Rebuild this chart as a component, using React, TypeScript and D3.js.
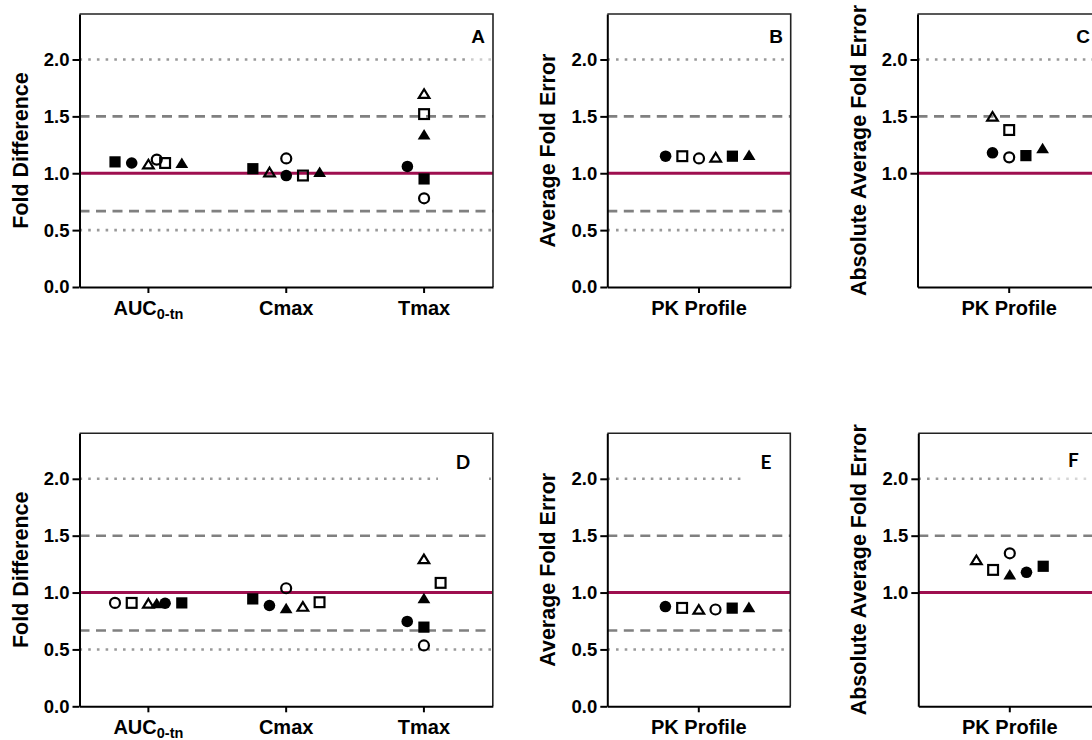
import React, { useEffect, useRef } from 'react'
import * as d3 from 'd3'

// series order: filled circle, open square, open circle, open triangle, filled square, filled triangle
const shapes = ['filledCircle', 'openSquare', 'openCircle', 'openTriangle', 'filledSquare', 'filledTriangle']

const pkCategories = ['AUC', 'Cmax', 'Tmax']
const profileCategory = ['PK Profile']

const fullTicks = [0, 0.5, 1.0, 1.5, 2.0]
const absTicks = [1.0, 1.5, 2.0]

// values per series, one entry per category
const valuesA = [
  [1.09, 0.98, 1.06],
  [1.09, 0.98, 1.52],
  [1.12, 1.13, 0.78],
  [1.08, 1.01, 1.70],
  [1.10, 1.04, 0.95],
  [1.09, 1.01, 1.34]
]
// horizontal spread of each point, in marker steps
const offsetsA = [
  [-1, 0, -1],
  [1, 1, 0],
  [0.5, 0, 0],
  [0, -1, 0],
  [-2, -2, 0],
  [2, 2, 0]
]

const valuesB = [[1.15], [1.15], [1.13], [1.14], [1.15], [1.16]]
const offsetsB = [[-2], [-1], [0], [1], [2], [3]]

const valuesC = [[1.18], [1.38], [1.14], [1.50], [1.155], [1.22]]
const offsetsC = [[-1], [0], [0], [-1], [1], [2]]

const valuesD = [
  [0.906, 0.886, 0.746],
  [0.909, 0.915, 1.085],
  [0.909, 1.038, 0.535],
  [0.905, 0.877, 1.295],
  [0.909, 0.944, 0.696],
  [0.906, 0.862, 0.95]
]
const offsetsD = [
  [1, -1, -1],
  [-1, 2, 1],
  [-2, 0, 0],
  [0, 1, 0],
  [2, -2, 0],
  [0.5, 0, 0]
]

const valuesE = [[0.877], [0.865], [0.851], [0.851], [0.863], [0.871]]
const offsetsE = [[-2], [-1], [1], [0], [2], [3]]

const valuesF = [[1.178], [1.199], [1.345], [1.287], [1.231], [1.158]]
const offsetsF = [[1], [-1], [0], [-2], [2], [0]]

const FONT = '"Liberation Sans", Arial, Helvetica, sans-serif'
const LABEL_FONT = 'Lato, "Open Sans", "Liberation Sans", sans-serif'
const MAGENTA = '#9e0f4f'
const STEP = 16.7
const PLOT_H = 273

const panels = [
  { label: 'A', left: 79.5, top: 14, width: 413.5, cats: pkCategories, values: valuesA, offsets: offsetsA,
    title: 'Fold Difference', ticks: fullTicks, low: true, lx: 478, ly: 43, lfont: FONT, box: [467, 22, 491, 64, 0.5] },
  { label: 'B', left: 607.3, top: 14, width: 183.4, cats: profileCategory, values: valuesB, offsets: offsetsB,
    title: 'Average Fold Error', ticks: fullTicks, low: true, lx: 776, ly: 43, lfont: FONT, box: null },
  { label: 'C', left: 917.5, top: 14, width: 183.4, cats: profileCategory, values: valuesC, offsets: offsetsC,
    title: 'Absolute Average Fold Error', ticks: absTicks, low: false, lx: 1083, ly: 43, lfont: FONT, box: null },
  { label: 'D', left: 79.5, top: 433.3, width: 413.3, cats: pkCategories, values: valuesD, offsets: offsetsD,
    title: 'Fold Difference', ticks: fullTicks, low: true, lx: 463, ly: 468.5, lfont: LABEL_FONT, box: [438, 440, 489, 484, 1] },
  { label: 'E', left: 607.3, top: 433.3, width: 183, cats: profileCategory, values: valuesE, offsets: offsetsE,
    title: 'Average Fold Error', ticks: fullTicks, low: true, lx: 766, ly: 468.5, lfont: LABEL_FONT, box: [741, 440, 788, 484, 1] },
  { label: 'F', left: 918.3, top: 433.3, width: 183, cats: profileCategory, values: valuesF, offsets: offsetsF,
    title: 'Absolute Average Fold Error', ticks: absTicks, low: false, lx: 1073.5, ly: 467, lfont: LABEL_FONT, box: [1045, 440, 1100, 484, 0.6] }
]

function drawMarker(g, shape, cx, cy) {
  if (shape === 'filledCircle') {
    g.append('circle').attr('cx', cx).attr('cy', cy).attr('r', 5.8).attr('fill', '#000')
  } else if (shape === 'openCircle') {
    g.append('circle').attr('cx', cx).attr('cy', cy).attr('r', 5)
      .attr('fill', 'none').attr('stroke', '#000').attr('stroke-width', 2.2)
  } else if (shape === 'filledSquare') {
    g.append('rect').attr('x', cx - 5.6).attr('y', cy - 5.6).attr('width', 11.2).attr('height', 11.2).attr('fill', '#000')
  } else if (shape === 'openSquare') {
    g.append('rect').attr('x', cx - 4.9).attr('y', cy - 4.9).attr('width', 9.8).attr('height', 9.8)
      .attr('fill', 'none').attr('stroke', '#000').attr('stroke-width', 2.2)
  } else if (shape === 'filledTriangle') {
    g.append('path').attr('d', `M${cx},${cy - 5.6}L${cx + 6.4},${cy + 5}L${cx - 6.4},${cy + 5}Z`).attr('fill', '#000')
  } else {
    g.append('path').attr('d', `M${cx},${cy - 4.4}L${cx + 5.3},${cy + 4.2}L${cx - 5.3},${cy + 4.2}Z`)
      .attr('fill', 'none').attr('stroke', '#000').attr('stroke-width', 2.2)
  }
}

function drawPanel(svg, p) {
  const bottom = p.top + PLOT_H
  const right = p.left + p.width
  const y = d3.scaleLinear().domain([0, 2.4]).range([bottom, p.top])
  const x = d3.scaleBand().domain(p.cats).range([p.left, right]).padding(0)
  const cx = (c) => x(c) + x.bandwidth() / 2

  const g = svg.append('g')

  // reference lines
  const refs = [
    { v: 2.0, dash: '2.6,6.1', color: '#999', w: 2.6 },
    { v: 1.5, dash: '10,6.5', color: '#808080', w: 2.6 }
  ]
  if (p.low) {
    refs.push({ v: 1 / 1.5, dash: '10,6.5', color: '#808080', w: 2.6 })
    refs.push({ v: 0.5, dash: '2.6,6.1', color: '#999', w: 2.6 })
  }
  refs.forEach(r => {
    g.append('line')
      .attr('x1', p.left).attr('x2', right)
      .attr('y1', y(r.v)).attr('y2', y(r.v))
      .attr('stroke', r.color).attr('stroke-width', r.w).attr('stroke-dasharray', r.dash)
  })
  g.append('line')
    .attr('x1', p.left).attr('x2', right)
    .attr('y1', y(1)).attr('y2', y(1))
    .attr('stroke', MAGENTA).attr('stroke-width', 3)

  // frame top / right
  g.append('path')
    .attr('d', `M${p.left},${p.top}H${right}V${bottom}`)
    .attr('fill', 'none').attr('stroke', '#222').attr('stroke-width', 1.6)

  // y axis
  g.append('g')
    .attr('transform', `translate(${p.left},0)`)
    .call(d3.axisLeft(y).tickValues(p.ticks).tickSize(7).tickSizeOuter(0).tickPadding(3).tickFormat(d3.format('.1f')))
    .call(ax => {
      ax.select('.domain').attr('stroke', '#000').attr('stroke-width', 2)
      ax.selectAll('.tick line').attr('stroke', '#000').attr('stroke-width', 2)
      ax.selectAll('.tick text').attr('font-family', FONT).attr('font-size', 18.5).attr('font-weight', 'bold').attr('fill', '#000')
    })

  // x axis
  g.append('g')
    .attr('transform', `translate(0,${bottom})`)
    .call(d3.axisBottom(x).tickSize(6).tickSizeOuter(0).tickFormat(() => ''))
    .call(ax => {
      ax.select('.domain').attr('stroke', '#000').attr('stroke-width', 2)
      ax.selectAll('.tick line').attr('stroke', '#000').attr('stroke-width', 2)
    })

  p.cats.forEach(c => {
    const t = g.append('text')
      .attr('x', cx(c)).attr('y', bottom + 28)
      .attr('text-anchor', 'middle')
      .attr('font-family', FONT).attr('font-size', 20).attr('font-weight', 'bold')
    if (c === 'AUC') {
      t.append('tspan').text('AUC')
      t.append('tspan').attr('font-size', 14.5).attr('dy', 3.5).text('0-tn')
    } else {
      t.text(c)
    }
  })

  // y title
  g.append('text')
    .attr('transform', `translate(${p.left - 52},${(p.top + bottom) / 2}) rotate(-90)`)
    .attr('text-anchor', 'middle')
    .attr('font-family', FONT).attr('font-size', 21.5).attr('font-weight', 'bold')
    .text(p.title)

  // points
  const pts = g.append('g')
  p.values.forEach((row, si) => {
    row.forEach((v, ci) => {
      drawMarker(pts, shapes[si], cx(p.cats[ci]) + p.offsets[si][ci] * STEP, y(v))
    })
  })

  // panel letter with its text box
  if (p.box) {
    const [x0, y0, x1, y1, op] = p.box
    g.append('rect').attr('x', x0).attr('y', y0).attr('width', x1 - x0).attr('height', y1 - y0)
      .attr('fill', '#fff').attr('fill-opacity', op)
  }
  g.append('text')
    .attr('x', p.lx).attr('y', p.ly)
    .attr('text-anchor', 'middle')
    .attr('font-family', p.lfont).attr('font-size', 19).attr('font-weight', 'bold')
    .text(p.label)
}

export default function App() {
  const ref = useRef(null)

  useEffect(() => {
    const svg = d3.select(ref.current)
    svg.selectAll('*').remove()
    panels.forEach(p => drawPanel(svg, p))
  }, [])

  return (
    <svg
      ref={ref}
      width={1092}
      height={740}
      style={{ position: 'absolute', left: 0, top: 0, background: '#fff' }}
    />
  )
}
